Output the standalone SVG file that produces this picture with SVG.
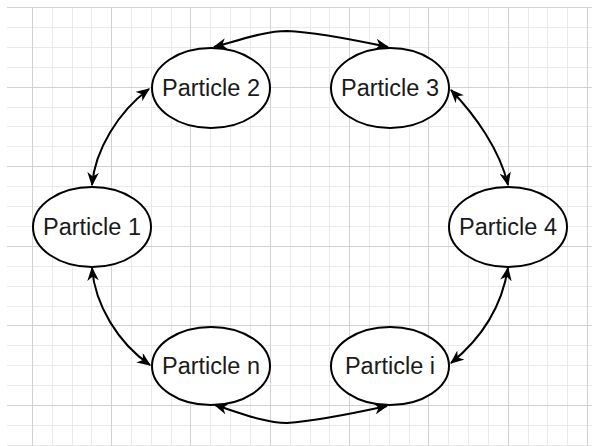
<svg xmlns="http://www.w3.org/2000/svg" width="592" height="446" viewBox="0 0 592 446">
<defs>
<style>
.mn{stroke:#e9e9e9;stroke-width:1}
.mj{stroke:#d2d2d2;stroke-width:1}
.node ellipse{fill:#ffffff;stroke:#000000;stroke-width:2}
.node text{font-family:"Liberation Sans",Arial,sans-serif;font-size:23.5px;fill:#1a1a1a;text-anchor:middle}
.edge{fill:none;stroke:#000000;stroke-width:2;marker-start:url(#arr);marker-end:url(#arr)}
</style>
<marker id="arr" viewBox="0 0 12 10" refX="11" refY="5" markerWidth="14" markerHeight="11.5" markerUnits="userSpaceOnUse" orient="auto-start-reverse">
<path d="M0,0 L12,5 L0,10 L3.5,5 Z" fill="#000000"/>
</marker>
</defs>
<rect x="0" y="0" width="592" height="446" fill="#ffffff"/>
<g id="grid">
<g class="mn">
<line x1="52.5" y1="7" x2="52.5" y2="446"/><line x1="72.5" y1="7" x2="72.5" y2="446"/><line x1="91.5" y1="7" x2="91.5" y2="446"/>
<line x1="131.5" y1="7" x2="131.5" y2="446"/><line x1="151.5" y1="7" x2="151.5" y2="446"/><line x1="171.5" y1="7" x2="171.5" y2="446"/>
<line x1="210.5" y1="7" x2="210.5" y2="446"/><line x1="230.5" y1="7" x2="230.5" y2="446"/><line x1="250.5" y1="7" x2="250.5" y2="446"/>
<line x1="290.5" y1="7" x2="290.5" y2="446"/><line x1="310.5" y1="7" x2="310.5" y2="446"/><line x1="329.5" y1="7" x2="329.5" y2="446"/>
<line x1="369.5" y1="7" x2="369.5" y2="446"/><line x1="389.5" y1="7" x2="389.5" y2="446"/><line x1="409.5" y1="7" x2="409.5" y2="446"/>
<line x1="448.5" y1="7" x2="448.5" y2="446"/><line x1="468.5" y1="7" x2="468.5" y2="446"/><line x1="488.5" y1="7" x2="488.5" y2="446"/>
<line x1="528.5" y1="7" x2="528.5" y2="446"/><line x1="547.5" y1="7" x2="547.5" y2="446"/><line x1="567.5" y1="7" x2="567.5" y2="446"/>
<line x1="7" y1="27.5" x2="592" y2="27.5"/><line x1="7" y1="47.5" x2="592" y2="47.5"/><line x1="7" y1="67.5" x2="592" y2="67.5"/>
<line x1="7" y1="107.5" x2="592" y2="107.5"/><line x1="7" y1="126.5" x2="592" y2="126.5"/><line x1="7" y1="146.5" x2="592" y2="146.5"/>
<line x1="7" y1="186.5" x2="592" y2="186.5"/><line x1="7" y1="206.5" x2="592" y2="206.5"/><line x1="7" y1="226.5" x2="592" y2="226.5"/>
<line x1="7" y1="266.5" x2="592" y2="266.5"/><line x1="7" y1="286.5" x2="592" y2="286.5"/><line x1="7" y1="306.5" x2="592" y2="306.5"/>
<line x1="7" y1="345.5" x2="592" y2="345.5"/><line x1="7" y1="365.5" x2="592" y2="365.5"/><line x1="7" y1="385.5" x2="592" y2="385.5"/>
<line x1="7" y1="425.5" x2="592" y2="425.5"/><line x1="7" y1="445.5" x2="592" y2="445.5"/>
</g>
<g class="mj">
<line x1="32.5" y1="7" x2="32.5" y2="446"/><line x1="111.5" y1="7" x2="111.5" y2="446"/><line x1="190.5" y1="7" x2="190.5" y2="446"/>
<line x1="270.5" y1="7" x2="270.5" y2="446"/><line x1="349.5" y1="7" x2="349.5" y2="446"/><line x1="428.5" y1="7" x2="428.5" y2="446"/>
<line x1="508.5" y1="7" x2="508.5" y2="446"/><line x1="587.5" y1="7" x2="587.5" y2="446"/>
<line x1="7" y1="7.5" x2="592" y2="7.5"/><line x1="7" y1="87.5" x2="592" y2="87.5"/><line x1="7" y1="166.5" x2="592" y2="166.5"/>
<line x1="7" y1="246.5" x2="592" y2="246.5"/><line x1="7" y1="325.5" x2="592" y2="325.5"/><line x1="7" y1="405.5" x2="592" y2="405.5"/>
</g>
</g>
<g id="connectors">
<path class="edge" d="M214,47 C240,40 265,31 287,31 C315,32 355,40 388,47"/>
<path class="edge" d="M215,405 C240,413 265,423 287,423 C315,421 355,413 387,406"/>
<path class="edge" d="M92,185 C95,150 118,112 149,89"/>
<path class="edge" d="M92,268 C95,305 118,343 150,365"/>
<path class="edge" d="M451,90 C475,115 500,150 508,185"/>
<path class="edge" d="M508,268 C502,305 482,338 451,363"/>
</g>
<g id="particle-2" class="node"><ellipse cx="211" cy="88" rx="59" ry="40"/><text x="211" y="96">Particle 2</text></g>
<g id="particle-3" class="node"><ellipse cx="390" cy="88" rx="59" ry="40"/><text x="390" y="96">Particle 3</text></g>
<g id="particle-1" class="node"><ellipse cx="92" cy="227" rx="59" ry="40"/><text x="92" y="235">Particle 1</text></g>
<g id="particle-4" class="node"><ellipse cx="508" cy="227" rx="59" ry="40"/><text x="508" y="235">Particle 4</text></g>
<g id="particle-n" class="node"><ellipse cx="211" cy="366" rx="59" ry="39"/><text x="211" y="374">Particle n</text></g>
<g id="particle-i" class="node"><ellipse cx="390" cy="366" rx="59" ry="39"/><text x="390" y="374">Particle i</text></g>
</svg>
